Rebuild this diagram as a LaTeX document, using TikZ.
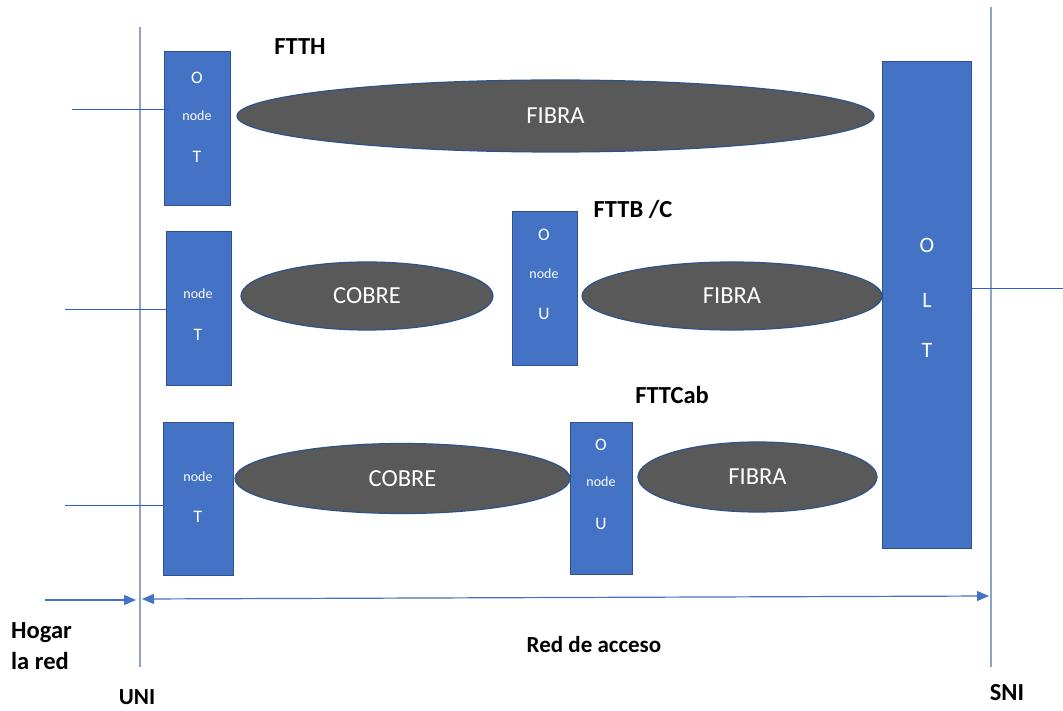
\documentclass[tikz,border=0pt]{standalone}
\usepackage{fontspec}
\setmainfont{Carlito}
\usetikzlibrary{shapes.geometric,arrows.meta}
\definecolor{boxblue}{HTML}{4472C4}
\definecolor{boxedge}{HTML}{2F528F}
\definecolor{ellgray}{HTML}{595959}
\definecolor{vline}{HTML}{8FA3C8}
\definecolor{wire}{HTML}{2E5BD6}
\definecolor{arrowblue}{HTML}{4472C4}
\begin{document}
\begin{tikzpicture}[x=1pt,y=-1pt,
  unitbox/.style={rectangle,draw=boxedge,fill=boxblue,line width=1pt,inner sep=0pt},
  medium/.style={ellipse,draw=boxedge,fill=ellgray,line width=1.2pt,inner sep=0pt,
    text=white,font=\fontsize{24.5}{24.5}\selectfont},
  letter/.style={text=white,inner sep=0pt,font=\fontsize{17.5}{17.5}\selectfont},
  bigletter/.style={text=white,inner sep=0pt,font=\fontsize{22}{22}\selectfont},
  small/.style={text=white,inner sep=0pt,font=\fontsize{14}{14}\selectfont},
  lbl/.style={text=black,inner sep=0pt,anchor=base,font=\fontsize{24.5}{24.5}\selectfont\bfseries},
  vrule/.style={draw=vline,line width=1.3pt},
  wireline/.style={draw=wire,line width=1pt},
  dimarrow/.style={draw=arrowblue,line width=1.2pt}
]
\useasboundingbox[fill=white] (0,0) rectangle (1063,711);

% reference lines
\coordinate (uniTop) at (140,27);
\coordinate (uniBot) at (140,667);
\coordinate (sniTop) at (991,7);
\coordinate (sniBot) at (991,667);
\draw[vrule] (uniTop) -- (uniBot);
\draw[vrule] (sniTop) -- (sniBot);

% media
\node[medium,minimum width=637pt,minimum height=72pt] (fibra1) at (555.5,116) {FIBRA};
\node[medium,minimum width=252pt,minimum height=68pt] (cobre2) at (367,296) {COBRE};
\node[medium,minimum width=300pt,minimum height=68pt] (fibra2) at (732,296) {FIBRA};
\node[medium,minimum width=335pt,minimum height=70pt] (cobre3) at (402.5,478.5) {COBRE};
\node[medium,minimum width=239pt,minimum height=70pt] (fibra3) at (757.5,477) {FIBRA};

% boxes
\node[unitbox,minimum width=66pt,minimum height=154pt] (ont1) at (197,129) {};
\node[unitbox,minimum width=65pt,minimum height=153pt] (nt2) at (198.5,308.5) {};
\node[unitbox,minimum width=65pt,minimum height=153pt] (onu2) at (544.5,288.5) {};
\node[unitbox,minimum width=70pt,minimum height=153pt] (nt3) at (198,498.5) {};
\node[unitbox,minimum width=62pt,minimum height=152pt] (onu3) at (601,498) {};
\node[unitbox,minimum width=89pt,minimum height=486pt] (olt) at (926.5,305) {};

% box texts
\node[letter] (ont1o) at (197,78) {O};
\node[small] (ont1n) at (197,116) {node};
\node[letter] (ont1t) at (197,157) {T};
\node[small] (nt2n) at (198,294) {node};
\node[letter] (nt2t) at (198,335) {T};
\node[letter] (onu2o) at (544,235) {O};
\node[small] (onu2n) at (544,274) {node};
\node[letter] (onu2u) at (544,314) {U};
\node[small] (nt3n) at (198,477) {node};
\node[letter] (nt3t) at (198,517) {T};
\node[letter] (onu3o) at (601,445) {O};
\node[small] (onu3n) at (601,482) {node};
\node[letter] (onu3u) at (601,524) {U};
\node[bigletter] (oltO) at (927,245) {O};
\node[bigletter] (oltL) at (927,300) {L};
\node[bigletter] (oltT) at (927,350) {T};

% side wires
\coordinate (w1) at (72,110);
\coordinate (w2) at (65,310);
\coordinate (w3) at (65,505);
\coordinate (w4) at (1063,289);
\draw[wireline] (w1) -- ([xshift=5pt]w1 -| ont1.west);
\draw[wireline] (w2) -- (w2 -| nt2.west);
\draw[wireline] (w3) -- (w3 -| nt3.west);
\draw[wireline] (w4 -| olt.east) -- (w4);

% dimension arrows
\coordinate (h0) at (45,600);
\coordinate (h1) at (136,600);
\coordinate (a0) at (142,599);
\coordinate (a1) at (989,596);
\draw[dimarrow,-{Triangle[length=12pt,width=10pt]}] (h0) -- (h1);
\draw[dimarrow,{Triangle[length=12pt,width=10pt]}-{Triangle[length=12pt,width=10pt]}] (a0) -- (a1);

% labels
\node[lbl] (ftth) at (300,55) {FTTH};
\node[lbl] (fttb) at (633,218) {FTTB /C};
\node[lbl] (fttcab) at (672,403) {FTTCab};
\node[lbl,anchor=base west] (hogar) at (11,638) {Hogar};
\node[lbl,anchor=base west] (lared) at (11,669) {la red};
\node[lbl,font=\fontsize{23}{23}\selectfont\bfseries] (uni) at (137,704) {UNI};
\node[lbl,font=\fontsize{23}{23}\selectfont\bfseries] (red) at (594,652) {Red de acceso};
\node[lbl] (sni) at (1007,700) {SNI};
\end{tikzpicture}
\end{document}
